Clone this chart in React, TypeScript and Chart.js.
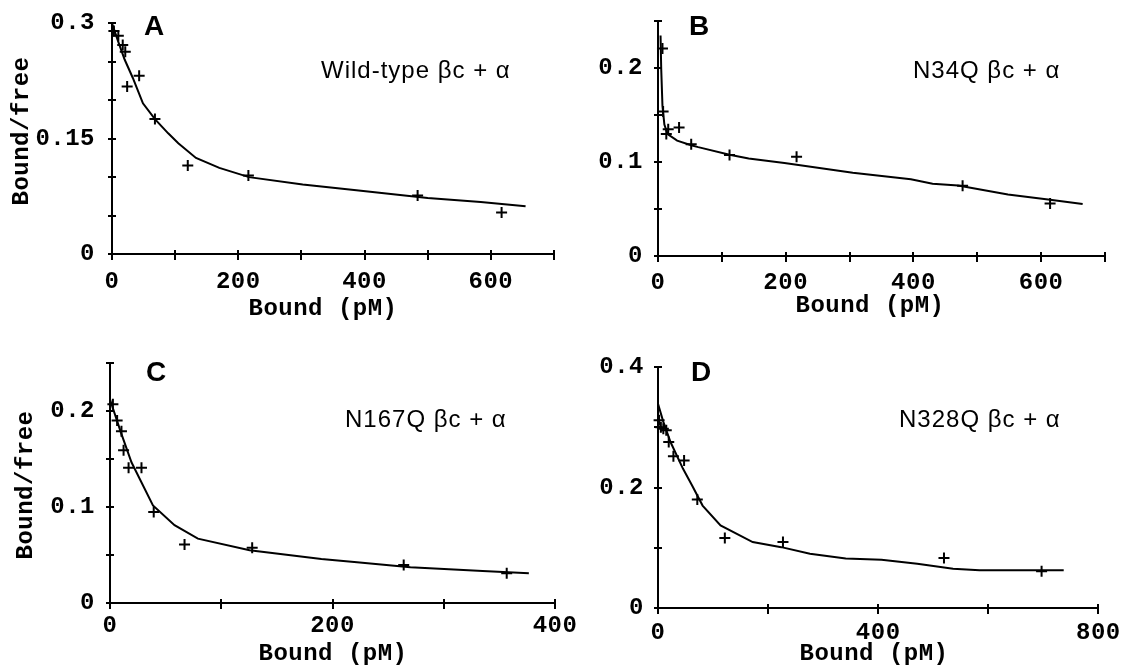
import React, { useEffect, useRef } from 'react';
import { Chart, registerables } from 'chart.js';

Chart.register(...registerables);

const PAGE_W = 1123;
const PAGE_H = 669;

// ---- Panel A: Wild-type βc + α
const aPointX = [3, 10, 17, 21, 24, 43, 68, 120, 216, 484, 617];
const aPointY = [0.29, 0.284, 0.272, 0.263, 0.218, 0.232, 0.1755, 0.115, 0.102, 0.076, 0.054];
const aCurveX = [0, 5, 10, 20, 33, 49, 68, 89, 105, 133, 170, 217, 302, 387, 500, 584, 655];
const aCurveY = [0.3, 0.288, 0.276, 0.253, 0.229, 0.196, 0.1755, 0.157, 0.144, 0.125, 0.112, 0.1, 0.0905, 0.083, 0.073, 0.0677, 0.062];
const aXLabels = ['0', '200', '400', '600'];
const aYLabels = ['0', '0.15', '0.3'];

// ---- Panel B: N34Q βc + α
const bPointX = [7, 8, 13, 16, 33, 52, 112, 217, 477, 614];
const bPointY = [0.221, 0.154, 0.13, 0.135, 0.137, 0.119, 0.1076, 0.1058, 0.0749, 0.056];
const bCurveX = [4, 5, 7, 10, 15, 30, 52, 63, 112, 142, 198, 305, 396, 430, 470, 548, 614, 665];
const bCurveY = [0.235, 0.2, 0.16, 0.14, 0.13, 0.123, 0.118, 0.116, 0.108, 0.104, 0.099, 0.0886, 0.0817, 0.077, 0.0752, 0.0655, 0.06, 0.0555];
const bXLabels = ['0', '200', '400', '600'];
const bYLabels = ['0', '0.1', '0.2'];

// ---- Panel C: N167Q βc + α
const cPointX = [2.6, 6.4, 10.3, 12.2, 16.7, 28.3, 39.3, 67, 127.8, 264, 356.6];
const cPointY = [0.207, 0.19, 0.179, 0.159, 0.141, 0.141, 0.0948, 0.061, 0.0576, 0.0397, 0.031];
const cCurveX = [0, 9.7, 19.3, 38.6, 58, 79, 125.5, 190, 222, 270, 335, 376.5];
const cCurveY = [0.212, 0.178, 0.1466, 0.1017, 0.081, 0.067, 0.055, 0.0459, 0.0424, 0.0372, 0.0334, 0.031];
const cXLabels = ['0', '200', '400'];
const cYLabels = ['0', '0.1', '0.2'];

// ---- Panel D: N328Q βc + α
const dPointX = [2, 5.2, 9.7, 15, 19.5, 28, 47.4, 71.4, 121.4, 227, 519.5, 696.8];
const dPointY = [0.3115, 0.3, 0.2977, 0.295, 0.2755, 0.252, 0.245, 0.18, 0.116, 0.1095, 0.083, 0.0609];
const dCurveX = [0, 9.7, 22.7, 45.5, 61.7, 81, 113.6, 172, 224, 276, 341, 406, 471, 536, 584, 737];
const dCurveY = [0.339, 0.309, 0.2755, 0.231, 0.2036, 0.17, 0.137, 0.1095, 0.101, 0.09, 0.082, 0.08, 0.0736, 0.0653, 0.0625, 0.0625];
const dXLabels = ['0', '400', '800'];
const dYLabels = ['0', '0.2', '0.4'];

const MONO = '"Liberation Mono", "DejaVu Sans Mono", monospace';
const SANS = '"Liberation Sans", Arial, sans-serif';

type PanelCfg = {
  letter: string;
  label: string;
  px: number[]; py: number[]; cx: number[]; cy: number[];
  xMax: number; xStep: number; xLabels: string[];
  yMax: number; yStep: number; yLabels: string[];
  area: { left: number; top: number; right: number; bottom: number };
  xPad: number; yPad: number;
  letterPos: [number, number];
  labelPos: [number, number];
  xTitle: [number, number];
  yTitle: [number, number] | null;
};

const panels: PanelCfg[] = [
  {
    letter: 'A', label: 'Wild-type βc + α',
    px: aPointX, py: aPointY, cx: aCurveX, cy: aCurveY,
    xMax: 700, xStep: 100, xLabels: aXLabels, yMax: 0.3, yStep: 0.05, yLabels: aYLabels,
    area: { left: 112, top: 13, right: 554, bottom: 254 },
    xPad: 6, yPad: 9,
    letterPos: [144, 35], labelPos: [321, 78], xTitle: [323, 309], yTitle: [22, 131],
  },
  {
    letter: 'B', label: 'N34Q βc + α',
    px: bPointX, py: bPointY, cx: bCurveX, cy: bCurveY,
    xMax: 700, xStep: 100, xLabels: bXLabels, yMax: 0.25, yStep: 0.05, yLabels: bYLabels,
    area: { left: 658, top: 14, right: 1105, bottom: 256 },
    xPad: 5, yPad: 7,
    letterPos: [689, 35], labelPos: [913, 78], xTitle: [870, 306], yTitle: null,
  },
  {
    letter: 'C', label: 'N167Q βc + α',
    px: cPointX, py: cPointY, cx: cCurveX, cy: cCurveY,
    xMax: 400, xStep: 100, xLabels: cXLabels, yMax: 0.25, yStep: 0.05, yLabels: cYLabels,
    area: { left: 110, top: 363, right: 555, bottom: 603 },
    xPad: 1, yPad: 7,
    letterPos: [146, 381], labelPos: [345, 427], xTitle: [333, 654], yTitle: [26, 485],
  },
  {
    letter: 'D', label: 'N328Q βc + α',
    px: dPointX, py: dPointY, cx: dCurveX, cy: dCurveY,
    xMax: 800, xStep: 200, xLabels: dXLabels, yMax: 0.4, yStep: 0.1, yLabels: dYLabels,
    area: { left: 658, top: 367, right: 1101, bottom: 608 },
    xPad: 3, yPad: 6,
    letterPos: [691, 381], labelPos: [899, 427], xTitle: [874, 654], yTitle: null,
  },
];

const Y_W = 105;
const X_H = 40;

function labelFor(labels: string[], value: number): string {
  const s = labels.find((l) => Math.abs(parseFloat(l) - value) < 1e-9);
  return s === undefined ? '' : s;
}

function makeDeco(p: PanelCfg) {
  return {
    id: 'deco' + p.letter,
    beforeDraw(chart: any) {
      chart.ctx.letterSpacing = '0.5px';
    },
    afterDraw(chart: any) {
      const ctx = chart.ctx as CanvasRenderingContext2D;
      const xs = chart.scales.x;
      const ys = chart.scales.y;
      const { left, bottom } = chart.chartArea;
      ctx.save();
      ctx.strokeStyle = '#000';
      ctx.lineWidth = 2;
      ctx.beginPath();
      xs.ticks.forEach((t: any) => {
        const x = Math.round(xs.getPixelForValue(t.value));
        ctx.moveTo(x, bottom - 4);
        ctx.lineTo(x, bottom + 6);
      });
      ys.ticks.forEach((t: any) => {
        const y = Math.round(ys.getPixelForValue(t.value));
        ctx.moveTo(left - 4, y);
        ctx.lineTo(left + 4, y);
      });
      ctx.stroke();

      ctx.fillStyle = '#000';
      (ctx as any).letterSpacing = '0px';
      ctx.font = `bold 28px ${SANS}`;
      ctx.textAlign = 'left';
      ctx.textBaseline = 'alphabetic';
      ctx.fillText(p.letter, p.letterPos[0], p.letterPos[1]);
      (ctx as any).letterSpacing = '1px';
      ctx.font = `24px ${SANS}`;
      ctx.fillText(p.label, p.labelPos[0], p.labelPos[1]);
      (ctx as any).letterSpacing = '0.5px';
      ctx.font = `bold 24px ${MONO}`;
      ctx.textAlign = 'center';
      ctx.textBaseline = 'middle';
      ctx.fillText('Bound (pM)', p.xTitle[0], p.xTitle[1]);
      if (p.yTitle) {
        ctx.save();
        ctx.translate(p.yTitle[0], p.yTitle[1]);
        ctx.rotate(-Math.PI / 2);
        ctx.fillText('Bound/free', 0, 0);
        ctx.restore();
      }
      ctx.restore();
      (ctx as any).letterSpacing = '0px';
    },
  };
}

function Panel({ p }: { p: PanelCfg }) {
  const ref = useRef<HTMLCanvasElement | null>(null);
  useEffect(() => {
    if (!ref.current) return;
    const curve = p.cx.map((x, i) => ({ x, y: p.cy[i] }));
    const pts = p.px.map((x, i) => ({ x, y: p.py[i] }));
    const chart = new Chart(ref.current, {
      type: 'scatter',
      data: {
        datasets: [
          {
            data: curve,
            showLine: true,
            borderColor: '#000',
            borderWidth: 2,
            pointRadius: 0,
            tension: 0,
            clip: false,
          } as any,
          {
            data: pts,
            showLine: false,
            pointStyle: 'cross',
            pointRadius: 5.5,
            borderColor: '#000',
            backgroundColor: '#000',
            pointBorderWidth: 2,
            borderWidth: 2,
            clip: false,
          } as any,
        ],
      },
      options: {
        responsive: false,
        animation: false,
        devicePixelRatio: 1,
        layout: {
          autoPadding: false,
          padding: {
            left: p.area.left - Y_W,
            top: p.area.top,
            right: PAGE_W - p.area.right,
            bottom: PAGE_H - p.area.bottom - X_H,
          },
        },
        plugins: {
          legend: { display: false },
          tooltip: { enabled: false },
        },
        events: [],
        scales: {
          x: {
            type: 'linear',
            min: 0,
            max: p.xMax,
            afterFit: (s: any) => { s.height = X_H; },
            grid: { display: false },
            border: { display: true, color: '#000', width: 2 },
            ticks: {
              stepSize: p.xStep,
              autoSkip: false,
              maxRotation: 0,
              padding: p.xPad,
              color: '#000',
              font: { family: MONO, size: 24, weight: 'bold' },
              callback: (v: any) => labelFor(p.xLabels, Number(v)),
            },
          },
          y: {
            type: 'linear',
            min: 0,
            max: p.yMax,
            afterFit: (s: any) => { s.width = Y_W; },
            grid: { display: false },
            border: { display: true, color: '#000', width: 2 },
            ticks: {
              stepSize: p.yStep,
              autoSkip: false,
              padding: p.yPad,
              color: '#000',
              font: { family: MONO, size: 24, weight: 'bold' },
              callback: (v: any) => labelFor(p.yLabels, Number(v)),
            },
          },
        },
      } as any,
      plugins: [makeDeco(p)],
    });
    return () => chart.destroy();
  }, [p]);
  return (
    <canvas
      ref={ref}
      width={PAGE_W}
      height={PAGE_H}
      style={{ position: 'absolute', left: 0, top: 0, width: PAGE_W, height: PAGE_H }}
    />
  );
}

export default function App() {
  return (
    <div style={{ position: 'absolute', left: 0, top: 0, width: PAGE_W, height: PAGE_H, background: '#fff' }}>
      {panels.map((p) => (
        <Panel key={p.letter} p={p} />
      ))}
    </div>
  );
}
